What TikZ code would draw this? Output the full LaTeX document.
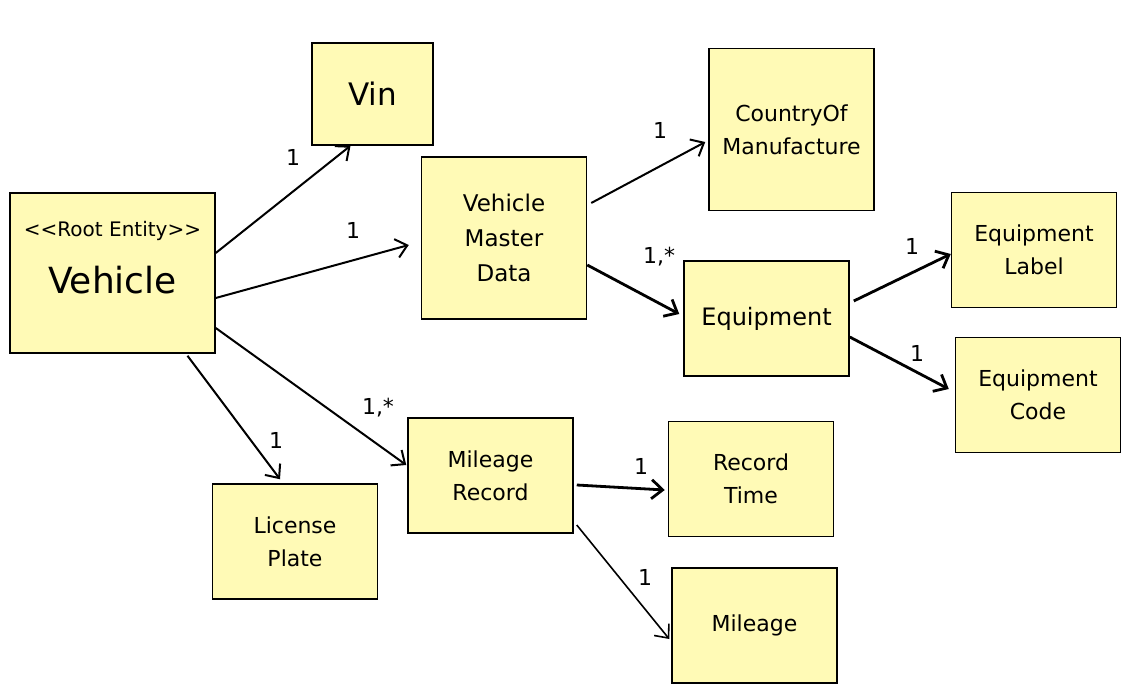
\documentclass[tikz,border=0pt]{standalone}
\usepackage{fontspec}
\setmainfont{DejaVu Sans}[Ligatures=TeXOff]
\usetikzlibrary{arrows.meta}
\definecolor{sticky}{RGB}{255,250,182}
\tikzset{
  ent/.style={draw=black,line width=1.5pt,fill=sticky,align=center,minimum width=165pt,minimum height=115pt,inner sep=0pt,font=\fontsize{22}{33}\selectfont},
  tallent/.style={ent,minimum height=162pt},
  conn/.style={line width=2pt,-{Straight Barb[length=11pt,width=19pt]}},
  heavy/.style={conn,line width=2.8pt},
  card/.style={font=\fontsize{22}{24}\selectfont,inner sep=0pt}
}
\begin{document}
\begin{tikzpicture}[x=1pt,y=-1pt]
      \useasboundingbox(0,0)rectangle(1130,693);
      \begin{scope}
        % entities
        \node[ent,minimum width=205pt,minimum height=160pt](veh)at(112.5,273){};
        \node[font=\fontsize{20}{22}\selectfont](vehstereo)at(112.5,231){<<Root Entity>>};
        \node[font=\fontsize{36}{40}\selectfont](vehname)at(112.5,280){Vehicle};
        \node[ent,minimum width=121pt,minimum height=102pt,font=\fontsize{31}{36}\selectfont](vin)at(372.5,94){Vin};
        \node[tallent,font=\fontsize{23}{35}\selectfont](vmd)at(504,238){Vehicle\\Master\\Data};
        \node[tallent](com)at(791.5,129.5){CountryOf\\Manufacture};
        \node[ent,font=\fontsize{24}{33}\selectfont](eqp)at(766.5,318.5){Equipment};
        \node[ent](eql)at(1034,250){Equipment\\Label};
        \node[ent](eqc)at(1038,395){Equipment\\Code};
        \node[ent](lic)at(295,541.5){License\\Plate};
        \node[ent](mlr)at(490.5,475.5){Mileage\\Record};
        \node[ent](rct)at(751,479){Record\\Time};
        \node[ent](mil)at(754.5,625.5){Mileage};
        % associations
        \draw[conn]([yshift=20pt]veh.east)--([xshift=-22pt]vin.south);
        \draw[conn]([yshift=-25pt]veh.east)--([xshift=-12pt,yshift=-7pt]vmd.west);
        \draw[conn]([xshift=75pt,yshift=-2pt]veh.south)--([xshift=-15pt,yshift=4pt]lic.north);
        \draw[conn]([yshift=-55pt]veh.east)--([xshift=-1pt,yshift=10.5pt]mlr.west);
        \draw[conn]([xshift=4pt,yshift=35pt]vmd.east)--([xshift=-3pt,yshift=-12.5pt]com.west);
        \draw[heavy]([yshift=-27pt]vmd.east)--([xshift=-4pt,yshift=4.5pt]eqp.west);
        \draw[heavy]([xshift=4pt,yshift=17.5pt]eqp.east)--([yshift=-4pt]eql.west);
        \draw[heavy]([yshift=-18.5pt]eqp.east)--([xshift=-6pt,yshift=6pt]eqc.west);
        \draw[heavy]([xshift=3pt,yshift=-9.5pt]mlr.east)--([xshift=-3pt,yshift=-11pt]rct.west);
        \draw[conn,line width=1.6pt]([xshift=3pt,yshift=-49.5pt]mlr.east)--([xshift=-2pt,yshift=-13.5pt]mil.west);
        % cardinalities
        \node[card](cvin)at(293,157){1};
        \node[card](cvmd)at(353,230){1};
        \node[card](clic)at(276,440){1};
        \node[card](cmlr)at(378,408){1,*};
        \node[card](ccom)at(660,130){1};
        \node[card](ceqp)at(659,257){1,*};
        \node[card](ceql)at(912,246){1};
        \node[card](ceqc)at(917,353){1};
        \node[card](crct)at(641,466){1};
        \node[card](cmil)at(645,577){1};
      \end{scope}
    \end{tikzpicture}
\end{document}
